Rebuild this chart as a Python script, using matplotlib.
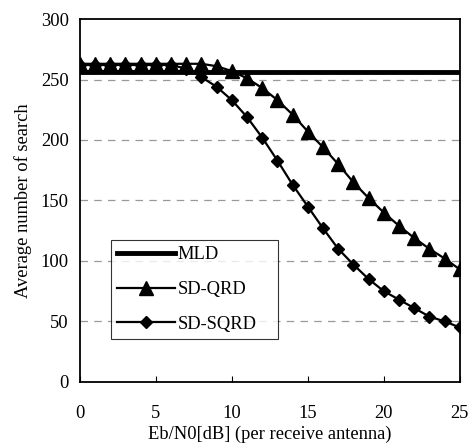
import matplotlib.pyplot as plt
import numpy as np

plt.rcParams['font.family'] = ['Liberation Serif', 'DejaVu Serif']

# Eb/N0 in dB (per receive antenna)
snr_db = np.arange(0, 26)
mld = [256] * len(snr_db)
sd_qrd = [263, 263, 263, 263, 263, 263, 263, 263, 263, 261, 257, 251, 243,
          233, 221, 207, 194, 180, 165, 152, 140, 129, 119, 110, 102, 93]
sd_sqrd = [262, 262, 262, 262, 262, 262, 262, 259, 252, 244, 233, 219, 202,
           183, 163, 145, 127, 110, 97, 85, 75, 68, 61, 54, 50, 45]

fig = plt.figure(figsize=(4.75, 4.43), dpi=100)
ax = fig.add_axes([0.168, 0.138, 0.8, 0.819])

for y in [50, 100, 150, 200, 250]:
    ax.axhline(y, color='#999999', lw=0.9, ls=(0, (6, 5)), zorder=1)

ax.plot(snr_db, mld, color='black', lw=3.5, label='MLD', zorder=3)
ax.plot(snr_db, sd_qrd, color='black', lw=1.6, marker='^', ms=10,
        label='SD-QRD', zorder=4)
ax.plot(snr_db, sd_sqrd, color='black', lw=1.6, marker='D', ms=6.5,
        label='SD-SQRD', zorder=5)

ax.set_xlim(0, 25)
ax.set_ylim(0, 300)
ax.set_xticks([0, 5, 10, 15, 20, 25])
ax.set_yticks([0, 50, 100, 150, 200, 250, 300])
ax.tick_params(axis='x', direction='in', length=4, labelsize=13.3, pad=17)
ax.tick_params(axis='y', length=0, labelsize=13.3, pad=8)
for s in ax.spines.values():
    s.set_linewidth(1.3)

ax.set_xlabel('Eb/N0[dB] (per receive antenna)', fontsize=13.3, labelpad=2)
ax.set_ylabel('Average number of search', fontsize=13.3, labelpad=6)

leg = ax.legend(loc='lower left', bbox_to_anchor=(0.082, 0.118, 0.44, 0.28),
                mode='expand', fontsize=13.3, frameon=True, fancybox=False,
                edgecolor='black', handlelength=3.1, handletextpad=0.15,
                borderaxespad=0, labelspacing=0.95, borderpad=0.35)
leg.get_frame().set_linewidth(0.8)

fig.savefig('out.png', dpi=100)
